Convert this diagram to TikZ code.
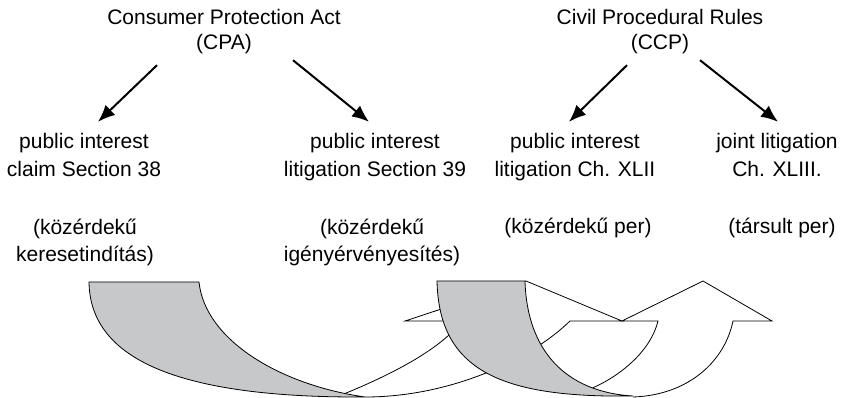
\documentclass[tikz,border=0pt]{standalone}
\usepackage{fontspec}
\setmainfont{Liberation Sans}
\usetikzlibrary{arrows.meta, calc}
\definecolor{bandgray}{RGB}{199,200,202}

\begin{document}
\begin{tikzpicture}[x=1pt, y=-1pt,
        txt/.style={align=center, inner sep=0pt, text height=15.3pt, text depth=4.4pt,
            anchor=base, font=\fontsize{21}{28}\selectfont},
        head/.style={txt, font=\fontsize{21}{25}\selectfont},
        link/.style={-{Latex[length=17pt, width=14pt]}, line width=2pt},
        band/.style={draw, line width=0.8pt, fill=bandgray, line join=round},
        front/.style={draw, line width=0.8pt, fill=white, line join=miter}]
            \useasboundingbox (0,0) rectangle (844,398);

            \node[head] (cpa) at (224,50) {Consumer Protection Act\\(CPA)};
            \node[head] (ccp) at (660,50) {Civil Procedural Rules\\(CCP)};

            \node[txt] (s38) at (84,177) {public interest\\claim Section 38};
            \node[txt] (s39) at (375,177) {public interest\\litigation Section 39};
            \node[txt] (xlii) at (575,177) {public interest\\litigation Ch. XLII};
            \node[txt] (xliii) at (777,177) {joint litigation\\Ch. XLIII.};

            \node[txt] (hu38) at (85,262) {(közérdekű\\keresetindítás)};
            \node[txt] (hu39) at (372,262) {(közérdekű\\igényérvényesítés)};
            \node[txt] (hu42) at (578,234) {(közérdekű per)};
            \node[txt] (hu43) at (782,234) {(társult per)};

            \draw[link] ($(cpa.south)+(-67,10.6)$) -- ($(s38.north)+(14,-39.7)$);
            \draw[link] ($(cpa.south)+(69,5.6)$) -- ($(s39.north)+(-6,-39.7)$);
            \draw[link] ($(ccp.south)+(-33,10.6)$) -- ($(xlii.north)+(-6,-39.7)$);
            \draw[link] ($(ccp.south)+(40,5.6)$) -- ($(xliii.north)+(1,-39.7)$);

            % first curved arrow
            \path[front] (345,393.5) .. controls (390,375) and (440,350) .. (462,321)
                -- (405,321) -- (526,281) -- (622,321) -- (570,321)
                .. controls (530,360) and (450,397) .. (365,397);
            \path[band] (89,282) -- (199,282) .. controls (205,340) and (280,385) .. (365,397)
                .. controls (180,398) and (90,360) .. (89,282) -- cycle;

            % second curved arrow
            \path[front] (592.6,387.9) .. controls (622,375) and (651,350) .. (658,321)
                -- (622,321) -- (703,281) -- (772,321) -- (733,321)
                .. controls (725,360) and (690,395) .. (633,397);
            \path[band] (437,281) -- (525,281) .. controls (527,350) and (565,392) .. (633,396)
                .. controls (500,398) and (439,370) .. (437,281) -- cycle;
        \end{tikzpicture}
\end{document}
